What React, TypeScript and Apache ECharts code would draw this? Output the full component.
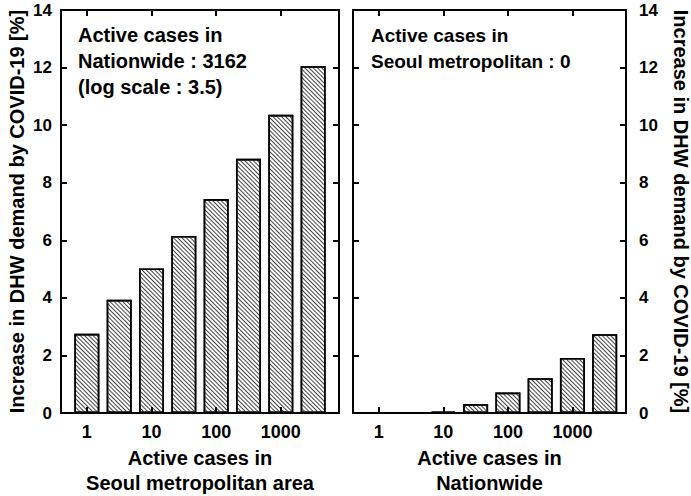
import React, { useEffect, useRef } from "react";
import * as echarts from "echarts";

// log10 of active cases (1, 3.16, 10, 31.6, 100, 316, 1000, 3162)
const logCases = [0, 0.5, 1, 1.5, 2, 2.5, 3, 3.5];
// Increase in DHW demand [%] vs active cases in Seoul metropolitan area (nationwide = 3162)
const seoulIncrease = [2.75, 3.93, 5.02, 6.15, 7.43, 8.83, 10.36, 12.05];
// Increase in DHW demand [%] vs active cases nationwide (Seoul metropolitan = 0)
const nationIncrease = [0, 0, 0.05, 0.31, 0.71, 1.21, 1.91, 2.74];

const xTickValues = [0, 1, 2, 3];
const xTickLabels = ["1", "10", "100", "1000"];

const yName = "Increase in DHW demand by COVID-19 [%]";
const leftXName = "Active cases in\nSeoul metropolitan area";
const rightXName = "Active cases in\nNationwide";
const leftNote = "Active cases in\nNationwide : 3162\n(log scale : 3.5)";
const rightNote = "Active cases in\nSeoul metropolitan : 0";

const FONT = "'Liberation Sans', Arial, Helvetica, sans-serif";

export default function App() {
  const ref = useRef<HTMLDivElement>(null);
  useEffect(() => {
    document.body.style.margin = "0";
    const chart = echarts.init(ref.current!, null, { renderer: "svg" });
    const line = { show: true, onZero: false, lineStyle: { color: "#000", width: 2 } };
    const tick = {
      show: true,
      inside: true,
      length: 6,
      lineStyle: { color: "#000", width: 2 },
    };
    const xLabel = (show: boolean) => ({
      show,
      customValues: xTickValues,
      formatter: (v: number) => xTickLabels[xTickValues.indexOf(Math.round(v))] ?? "",
      color: "#000",
      fontWeight: "bold" as const,
      fontSize: 18,
      fontFamily: FONT,
      margin: 10,
    });
    const xAxisBase = (grid: number, pos: "bottom" | "top", min: number, max: number) => ({
      type: "value" as const,
      gridIndex: grid,
      position: pos,
      min,
      max,
      z: 10,
      axisLine: line,
      axisTick: { ...tick, customValues: xTickValues },
      axisLabel: xLabel(pos === "bottom"),
      splitLine: { show: false },
    });
    const yAxisBase = (grid: number, pos: "left" | "right", labels: boolean) => ({
      type: "value" as const,
      gridIndex: grid,
      position: pos,
      min: 0,
      max: 14,
      interval: 2,
      z: 10,
      axisLine: line,
      axisTick: tick,
      axisLabel: {
        show: labels,
        color: "#000",
        fontWeight: "bold" as const,
        fontSize: 17,
        fontFamily: FONT,
        margin: pos === "left" ? 9 : 13,
      },
      splitLine: { show: false },
    });
    const nameStyle = {
      color: "#000",
      fontWeight: "bold" as const,
      fontSize: 20,
      fontFamily: FONT,
      lineHeight: 25,
    };
    const decal = {
      symbol: "rect",
      symbolSize: 1,
      color: "#444",
      backgroundColor: "#fff",
      dashArrayX: [[1, 0]],
      dashArrayY: [1, 2],
      rotation: Math.PI / 4,
    };
    const barStyle = {
      color: "#fff",
      borderColor: "#000",
      borderWidth: 1.6,
      decal,
    };
    chart.setOption({
      animation: false,
      textStyle: { fontFamily: FONT },
      grid: [
        { left: 61, top: 10, width: 278, height: 403, outerBoundsMode: "none", containLabel: false },
        { left: 353, top: 10, width: 273, height: 403, outerBoundsMode: "none", containLabel: false },
      ],
      xAxis: [
        {
          ...xAxisBase(0, "bottom", -0.4, 3.9),
          name: leftXName,
          nameLocation: "middle",
          nameGap: 32,
          nameTextStyle: nameStyle,
        },
        xAxisBase(0, "top", -0.4, 3.9),
        {
          ...xAxisBase(1, "bottom", -0.4, 3.83),
          name: rightXName,
          nameLocation: "middle",
          nameGap: 32,
          nameTextStyle: nameStyle,
        },
        xAxisBase(1, "top", -0.4, 3.83),
      ],
      yAxis: [
        {
          ...yAxisBase(0, "left", true),
          name: yName,
          nameLocation: "middle",
          nameRotate: 90,
          nameGap: 32,
          nameTextStyle: nameStyle,
        },
        yAxisBase(0, "right", false),
        yAxisBase(1, "left", false),
        {
          ...yAxisBase(1, "right", true),
          name: yName,
          nameLocation: "middle",
          nameRotate: -90,
          nameGap: 42,
          nameTextStyle: nameStyle,
        },
      ],
      series: [
        {
          type: "bar",
          xAxisIndex: 0,
          yAxisIndex: 0,
          barWidth: 25,
          itemStyle: barStyle,
          data: logCases.map((x, i) => [x, seoulIncrease[i]]),
        },
        {
          type: "bar",
          xAxisIndex: 2,
          yAxisIndex: 2,
          barWidth: 25,
          itemStyle: barStyle,
          data: logCases.map((x, i) => [x, nationIncrease[i]]),
        },
      ],
      graphic: [
        {
          type: "text",
          left: 78,
          top: 22,
          z: 20,
          style: {
            text: leftNote,
            fill: "#000",
            font: `bold 20px ${FONT}`,
            lineHeight: 26,
          },
        },
        {
          type: "text",
          left: 371,
          top: 22,
          z: 20,
          style: {
            text: rightNote,
            fill: "#000",
            font: `bold 19px ${FONT}`,
            lineHeight: 26,
          },
        },
      ],
    });
    return () => chart.dispose();
  }, []);
  return <div ref={ref} style={{ width: 691, height: 496 }} />;
}
